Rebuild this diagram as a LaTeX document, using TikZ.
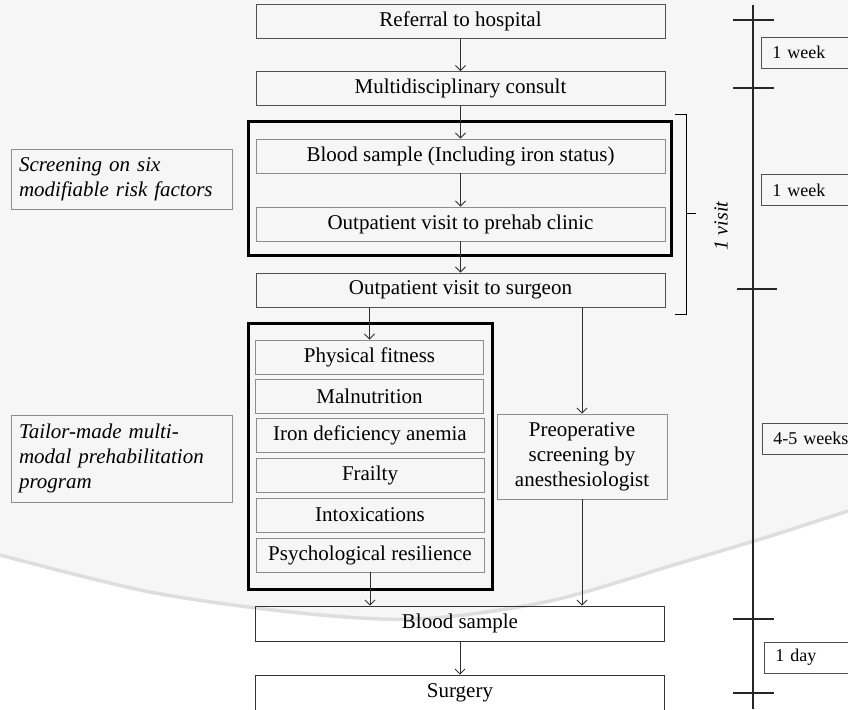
\documentclass[tikz,border=0pt]{standalone}
\usepackage{fontspec}
\setmainfont{Liberation Serif}
\usetikzlibrary{arrows.meta}
\definecolor{bggray}{HTML}{F6F6F6}
\definecolor{bandgray}{HTML}{DEDEDE}
\definecolor{boxline}{HTML}{505050}
\definecolor{innerline}{HTML}{8C8C8C}
\definecolor{arrcol}{HTML}{303030}
\begin{document}
\begin{tikzpicture}[x=1pt,y=-1pt,
  box/.style={draw=boxline, line width=0.9pt, minimum width=409pt, minimum height=34pt,
    inner sep=0pt, font=\fontsize{21}{25}\selectfont, text=black},
  innerbox/.style={box, draw=innerline, minimum width=228pt},
  grp/.style={draw=black, line width=3pt, inner sep=0pt},
  sidelabel/.style={draw=innerline, line width=0.9pt, font=\fontsize{21}{25}\selectfont\itshape,
    align=left, text width=205pt, inner xsep=8pt, inner ysep=0pt, minimum width=221pt},
  tlabel/.style={draw=boxline, line width=0.9pt, font=\fontsize{18}{20}\selectfont, anchor=west,
    minimum height=31pt, text width=95pt, align=left, inner xsep=11pt, inner ysep=0pt},
  arr/.style={draw=arrcol, line width=0.9pt, -{Straight Barb[length=5pt,width=10pt]}},
  tline/.style={draw=black!85, line width=1.1pt}
]
\useasboundingbox (0,0) rectangle (848,709);
\fill[white] (0,0) rectangle (848,709);
\fill[bggray] (0,0) -- plot[smooth] coordinates {(0,555) (150,592) (300,613) (420,619) (550,601) (680,563) (764,538) (848,511)} -- (848,0) -- cycle;
\draw[bandgray, line width=3.5pt] plot[smooth] coordinates {(0,555) (150,592) (300,613) (420,619) (550,601) (680,563) (764,538) (848,511)};

% group frames
\node[grp, minimum width=423pt, minimum height=134pt] (grp1) at (459.5,188) {};
\node[grp, minimum width=244pt, minimum height=266pt] (grp2) at (370,456) {};

% main column
\node[box] (ref) at (460.5,21.5) {Referral to hospital};
\node[box] (mdc) at (460.5,88.5) {Multidisciplinary consult};
\node[box, draw=innerline] (blood1) at (460.5,156) {Blood sample (Including iron status)};
\node[box, draw=innerline] (prehab) at (460.5,224) {Outpatient visit to prehab clinic};
\node[box] (surgeon) at (460.5,290) {Outpatient visit to surgeon};

\node[innerbox] (fitness) at (369.5,357) {Physical fitness};
\node[innerbox] (maln) at (369.5,396) {Malnutrition};
\node[innerbox] (iron) at (370,435) {Iron deficiency anemia};
\node[innerbox] (frail) at (370,475) {Frailty};
\node[innerbox] (intox) at (370,515) {Intoxications};
\node[innerbox] (psych) at (370,555) {Psychological resilience};

\node[box, draw=innerline, minimum width=170pt, minimum height=85pt, align=center] (preop) at (582,456.5)
  {Preoperative\\screening by\\anesthesiologist};

\node[box, draw=black!80, minimum height=35pt] (blood2) at (460,623.5) {Blood sample};
\node[box, draw=black!80, minimum height=35pt] (surgery) at (460,692.5) {Surgery};

% side labels
\node[sidelabel, minimum height=60pt] (screen) at (121.5,179) {Screening on six\\modifiable risk factors};
\node[sidelabel, minimum height=87pt] (tailor) at (121.5,458.5) {Tailor-made multi-\\modal prehabilitation\\program};

% arrows
\draw[arr] (ref) -- (mdc);
\draw[arr] (mdc) -- (blood1);
\draw[arr] (blood1) -- (prehab);
\draw[arr] (prehab) -- (surgeon);
\draw[arr] (fitness.north |- surgeon.south) -- (fitness.north);
\draw[arr] (preop.north |- surgeon.south) -- (preop.north);
\draw[arr] (psych.south) -- (psych.south |- blood2.north);
\draw[arr] (preop.south) -- (preop.south |- blood2.north);
\draw[arr] (blood2) -- (surgery);

% bracket "1 visit"
\coordinate (bt) at (675,114);
\coordinate (bb) at (675,314);
\coordinate (bm) at (686,213);
\draw[line width=0.9pt] (bt) -- (bt -| bm) -- (bb -| bm) -- (bb);
\draw[line width=0.9pt] (bm) -- ++(10,0);
\node[rotate=90, font=\fontsize{20}{24}\selectfont\itshape] (visit) at (721,226) {1 visit};

% timeline
\coordinate (ttop) at (753,5);
\coordinate (tbot) at (753,709);
\draw[tline] (ttop) -- (tbot);
\draw[tline] (733,20) -- (774,20);
\draw[tline] (733,88) -- (774,88);
\draw[tline] (737,289) -- (777,289);
\draw[tline] (733,619) -- (774,619);
\draw[tline] (733,693) -- (774,693);

\node[tlabel] (w1) at (761,52.5) {1 week};
\node[tlabel] (w2) at (761,190) {1 week};
\node[tlabel] (w3) at (762,438.5) {4-5 weeks};
\node[tlabel] (d1) at (764,657.5) {1 day};
\end{tikzpicture}
\end{document}
